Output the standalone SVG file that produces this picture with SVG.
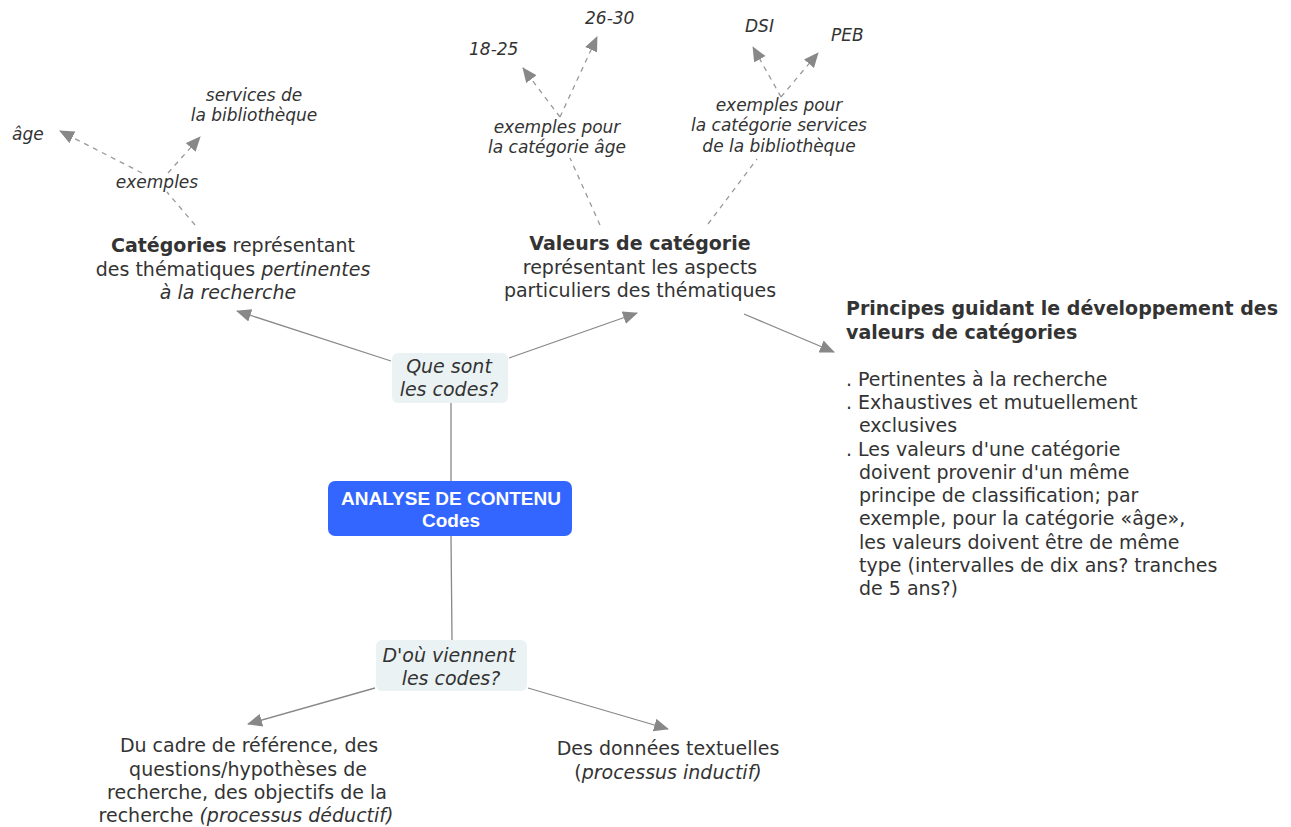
<svg xmlns="http://www.w3.org/2000/svg" width="1291" height="827" viewBox="0 0 1291 827">
<style>
.t{font-family:"DejaVu Sans",Verdana,sans-serif;font-size:19px;fill:#333;}
.i{font-family:"DejaVu Sans",Verdana,sans-serif;font-size:17px;font-style:italic;fill:#333;}
.q{font-family:"DejaVu Sans",Verdana,sans-serif;font-size:19px;font-style:italic;fill:#333;}
.b{font-weight:bold;}
.it{font-style:italic;}
.c{text-anchor:middle;}
.ln{stroke:#888;stroke-width:1.3;fill:none;}
.dl{stroke:#999;stroke-width:1.3;fill:none;stroke-dasharray:5,5;}
.ctr{font-family:"Liberation Sans",Arial,sans-serif;font-size:19px;font-weight:bold;fill:#fff;text-anchor:middle;}
</style>
<defs>
<marker id="ah" markerUnits="userSpaceOnUse" markerWidth="16" markerHeight="14" refX="14" refY="6.5" orient="auto">
<path d="M0,0 L15,6.5 L0,13 z" fill="#888"/>
</marker>
</defs>
<rect width="1291" height="827" fill="#fff"/>
<g id="connectors">
<line class="ln" x1="451" y1="403" x2="451" y2="481"/>
<line class="ln" x1="451" y1="536" x2="452" y2="640"/>
<line class="ln" x1="391" y1="361" x2="237" y2="311" marker-end="url(#ah)"/>
<line class="ln" x1="509" y1="358" x2="637" y2="313" marker-end="url(#ah)"/>
<line class="ln" x1="744" y1="314" x2="834" y2="352" marker-end="url(#ah)"/>
<line class="ln" x1="375" y1="688" x2="248" y2="724" marker-end="url(#ah)"/>
<line class="ln" x1="528" y1="688" x2="668" y2="729" marker-end="url(#ah)"/>
<line class="dl" x1="195" y1="225" x2="167" y2="192"/>
<line class="dl" x1="142" y1="173" x2="60" y2="131" marker-end="url(#ah)"/>
<line class="dl" x1="168" y1="173" x2="200" y2="137" marker-end="url(#ah)"/>
<line class="dl" x1="600" y1="225" x2="570" y2="158"/>
<line class="dl" x1="560" y1="117" x2="523" y2="68" marker-end="url(#ah)"/>
<line class="dl" x1="560" y1="117" x2="597" y2="37" marker-end="url(#ah)"/>
<line class="dl" x1="708" y1="224" x2="757" y2="159"/>
<line class="dl" x1="781" y1="97" x2="753" y2="47" marker-end="url(#ah)"/>
<line class="dl" x1="781" y1="97" x2="818" y2="53" marker-end="url(#ah)"/>
</g>
<g id="center">
<rect x="328" y="481" width="244" height="55" rx="7" fill="#3366ff"/>
<text class="ctr" x="451" y="505">ANALYSE DE CONTENU</text>
<text class="ctr" x="451" y="527">Codes</text>
</g>
<g id="que-sont">
<rect x="392" y="353" width="116" height="50" rx="6" fill="#ebf2f4"/>
<text class="q c" x="449" y="373">Que sont</text>
<text class="q c" x="449" y="396">les codes?</text>
</g>
<g id="dou-viennent">
<rect x="376" y="640" width="151" height="51" rx="6" fill="#ebf2f4"/>
<text class="q c" x="449" y="662">D'où viennent</text>
<text class="q c" x="451" y="685">les codes?</text>
</g>
<g id="categories">
<text class="t c" x="233" y="252"><tspan class="b">Catégories</tspan> représentant</text>
<text class="t c" x="233" y="276">des thématiques <tspan class="it">pertinentes</tspan></text>
<text class="t c it" x="228" y="299">à la recherche</text>
</g>
<g id="valeurs">
<text class="t c b" x="640" y="250">Valeurs de catégorie</text>
<text class="t c" x="640" y="274">représentant les aspects</text>
<text class="t c" x="640" y="297">particuliers des thématiques</text>
</g>
<g id="principes">
<text class="t b" x="846" y="315">Principes guidant le développement des</text>
<text class="t b" x="846" y="339">valeurs de catégories</text>
<text class="t" x="846" y="386">. Pertinentes à la recherche</text>
<text class="t" x="846" y="409">. Exhaustives et mutuellement</text>
<text class="t" x="859" y="432">exclusives</text>
<text class="t" x="846" y="456">. Les valeurs d'une catégorie</text>
<text class="t" x="859" y="479">doivent provenir d'un même</text>
<text class="t" x="859" y="502">principe de classification; par</text>
<text class="t" x="859" y="525">exemple, pour la catégorie «âge»,</text>
<text class="t" x="859" y="549">les valeurs doivent être de même</text>
<text class="t" x="859" y="572">type (intervalles de dix ans? tranches</text>
<text class="t" x="859" y="595">de 5 ans?)</text>
</g>
<g id="deductif">
<text class="t c" x="249" y="752">Du cadre de référence, des</text>
<text class="t c" x="248" y="776">questions/hypothèses de</text>
<text class="t c" x="247" y="799">recherche, des objectifs de la</text>
<text class="t c" x="246" y="822">recherche <tspan class="it">(processus déductif)</tspan></text>
</g>
<g id="inductif">
<text class="t c" x="668" y="755">Des données textuelles</text>
<text class="t c" x="668" y="779">(<tspan class="it">processus inductif)</tspan></text>
</g>
<g id="exemples">
<text class="i c" x="157" y="188">exemples</text>
</g>
<g id="age">
<text class="i" x="12" y="140">âge</text>
</g>
<g id="services">
<text class="i c" x="254" y="101">services de</text>
<text class="i c" x="254" y="121">la bibliothèque</text>
</g>
<g id="ex-age">
<text class="i c" x="557" y="133">exemples pour</text>
<text class="i c" x="557" y="153">la catégorie âge</text>
</g>
<g id="ex-services">
<text class="i c" x="779" y="111">exemples pour</text>
<text class="i c" x="779" y="131">la catégorie services</text>
<text class="i c" x="779" y="152">de la bibliothèque</text>
</g>
<g id="v1825"><text class="i" x="469" y="55">18-25</text></g>
<g id="v2630"><text class="i" x="585" y="24">26-30</text></g>
<g id="dsi"><text class="i" x="745" y="32">DSI</text></g>
<g id="peb"><text class="i" x="831" y="41">PEB</text></g>
</svg>
